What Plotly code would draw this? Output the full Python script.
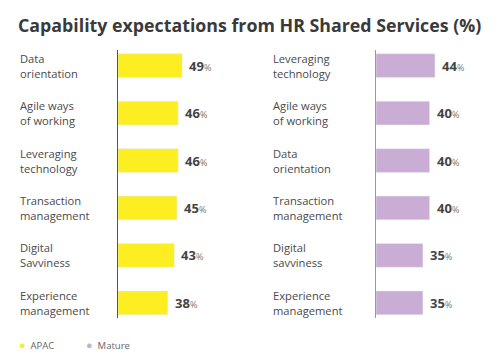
import plotly.graph_objects as go

apac_categories = ["Data<br>orientation", "Agile ways<br>of working", "Leveraging<br>technology",
                   "Transaction<br>management", "Digital<br>Savviness", "Experience<br>management"]
apac_values = [49, 46, 46, 45, 43, 38]

mature_categories = ["Leveraging<br>technology", "Agile ways<br>of working", "Data<br>orientation",
                     "Transaction<br>management", "Digital<br>savviness", "Experience<br>management"]
mature_values = [44, 40, 40, 40, 35, 35]

title_text = "Capability expectations from HR Shared Services (%)"
legend_labels = ["APAC", "Mature"]

YELLOW = "#FCEE21"
PURPLE = "#CAADD4"
FONT = "Open Sans"
TEXT = "#4a4a4a"

# page body has an 8px margin; figure occupies 484x347 inside it
OFF = 8
W, H = 484, 347


def px(x):
    return (x - OFF) / W


def py(y):
    return (H - (y - OFF)) / H


fig = go.Figure()
idx = list(range(len(apac_categories)))

fig.add_trace(go.Bar(x=apac_values, y=idx, orientation="h", marker_color=YELLOW,
                     width=0.5, xaxis="x", yaxis="y", showlegend=False, hoverinfo="skip"))
fig.add_trace(go.Bar(x=mature_values, y=idx, orientation="h", marker_color=PURPLE,
                     width=0.5, xaxis="x2", yaxis="y2", showlegend=False, hoverinfo="skip"))

ann = []


def val_text(v):
    return f"<b>{v}</b><span style='font-size:9px;color:#777'>%</span>"


for i, (c, v) in enumerate(zip(apac_categories, apac_values)):
    ann.append(dict(x=px(18), xref="paper", y=i, yref="y", text=c, showarrow=False,
                    xanchor="left", yanchor="middle", align="left",
                    font=dict(family=FONT, size=11.2, color=TEXT)))
    ann.append(dict(x=v, xref="x", y=i, yref="y", text=val_text(v),
                    showarrow=False, xanchor="left", yanchor="middle", xshift=5,
                    font=dict(family=FONT, size=13, color="#444")))
for i, (c, v) in enumerate(zip(mature_categories, mature_values)):
    ann.append(dict(x=px(271), xref="paper", y=i, yref="y2", text=c, showarrow=False,
                    xanchor="left", yanchor="middle", align="left",
                    font=dict(family=FONT, size=11.2, color=TEXT)))
    ann.append(dict(x=v, xref="x2", y=i, yref="y2", text=val_text(v),
                    showarrow=False, xanchor="left", yanchor="middle", xshift=5,
                    font=dict(family=FONT, size=13, color="#444")))

# legend
for lx, lab, col in [(17, legend_labels[0], YELLOW), (84, legend_labels[1], PURPLE)]:
    ann.append(dict(x=px(lx), xref="paper", y=py(344), yref="paper",
                    text=f"<span style='color:{col};font-size:11px'>●</span>  {lab}",
                    showarrow=False, xanchor="left", yanchor="middle",
                    font=dict(family=FONT, size=9.5, color="#666")))

ann.append(dict(x=px(16), xref="paper", y=py(25), yref="paper", text=f"<b>{title_text}</b>",
                showarrow=False, xanchor="left", yanchor="middle",
                font=dict(family=FONT, size=17.8, color="#3a3a3a")))

ydom = [py(318), py(50)]
yrng = [5.32, -0.33]

fig.update_layout(
    width=W, height=H,
    margin=dict(l=0, r=0, t=0, b=0),
    paper_bgcolor="white", plot_bgcolor="white",
    annotations=ann,
    xaxis=dict(domain=[px(118), px(250)], range=[0, 100.8], visible=False, fixedrange=True),
    yaxis=dict(domain=ydom, range=yrng, anchor="x", showticklabels=False, showgrid=False,
               zeroline=False, showline=True, linecolor="#555", linewidth=1, ticks=""),
    xaxis2=dict(domain=[px(376), px(492)], range=[0, 116 / 1.34], visible=False,
                fixedrange=True, anchor="y2"),
    yaxis2=dict(domain=ydom, range=yrng, anchor="x2", showticklabels=False, showgrid=False,
                zeroline=False, showline=True, linecolor="#999", linewidth=1, ticks=""),
)

fig.write_html("out.html")
